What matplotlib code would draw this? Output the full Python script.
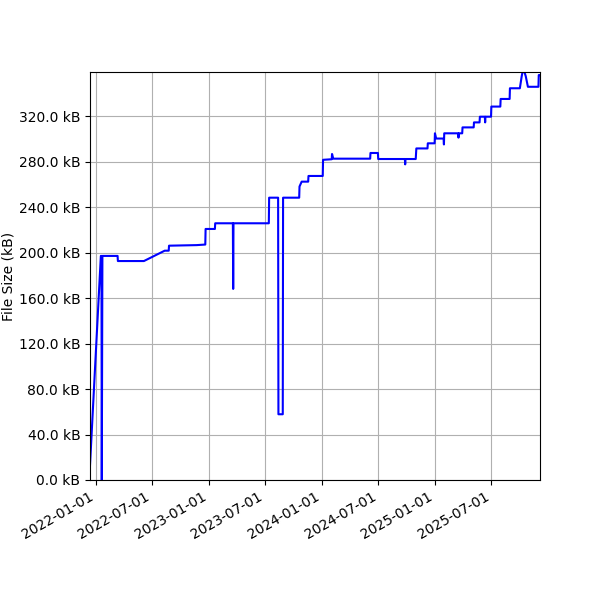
import pandas as pd
import matplotlib
matplotlib.use('Agg')
import matplotlib.pyplot as plt
import matplotlib.dates as mdates
import matplotlib.ticker as mticker

# file size history (kB)
dates = [
	'2021-12-14', '2022-01-18', '2022-01-20', '2022-01-21', '2022-01-23',
	'2022-03-13', '2022-03-14', '2022-06-06', '2022-08-12', '2022-08-25',
	'2022-08-26', '2022-11-23', '2022-12-21', '2022-12-22', '2023-01-21',
	'2023-01-22', '2023-03-20', '2023-03-21', '2023-03-22', '2023-07-14',
	'2023-07-15', '2023-08-13', '2023-08-14', '2023-08-28', '2023-08-29',
	'2023-10-20', '2023-10-21', '2023-10-28', '2023-11-18', '2023-11-19',
	'2024-01-04', '2024-01-05', '2024-02-02', '2024-02-03', '2024-02-07',
	'2024-06-05', '2024-06-06', '2024-06-30', '2024-07-01', '2024-09-25',
	'2024-09-26', '2024-09-27', '2024-10-30', '2024-11-01', '2024-12-07',
	'2024-12-08', '2024-12-30', '2024-12-31', '2025-01-04', '2025-01-28',
	'2025-01-29', '2025-01-30', '2025-03-16', '2025-03-17', '2025-03-18',
	'2025-03-29', '2025-03-30', '2025-05-05', '2025-05-06', '2025-05-24',
	'2025-05-25', '2025-06-10', '2025-06-11', '2025-06-12', '2025-06-30',
	'2025-07-01', '2025-07-30', '2025-07-31', '2025-08-29', '2025-08-30',
	'2025-10-01', '2025-10-07', '2025-10-12', '2025-10-20', '2025-10-27',
	'2025-11-30', '2025-12-01', '2025-12-05',
]
sizes_kb = [
	13, 197, 197, 0, 197,
	197, 192.5, 192.5, 201.6, 201.6,
	206, 206.5, 207, 220.7, 220.7,
	225.7, 225.7, 168, 225.7, 225.7,
	248.2, 248.2, 57.8, 57.8, 248.2,
	248.2, 258, 262.3, 262.3, 267.3,
	267.3, 281.5, 282, 286.6, 282.5,
	282.5, 287.5, 287.5, 282.2, 282.2,
	277.5, 282.2, 282.2, 291.5, 291.5,
	296, 296, 304.8, 300.2, 300.2,
	295, 304.8, 304.8, 301, 304.8,
	304.8, 310, 310, 314.4, 314.4,
	319.4, 319.4, 314.4, 319.4, 319.4,
	328.3, 328.3, 335, 335, 344.4,
	344.4, 355, 362, 355, 345.7,
	345.7, 356, 356,
]

df = pd.DataFrame({'size': sizes_kb}, index=pd.to_datetime(dates))

fig, ax = plt.subplots(figsize=(6, 6), dpi=100)
fig.subplots_adjust(left=0.15, right=0.9, top=0.88)
ax.plot(df.index.values, df['size'].values, color='blue', linewidth=1.5)

ax.xaxis.set_major_locator(mdates.MonthLocator(bymonth=[1, 7]))
ax.xaxis.set_major_formatter(mdates.DateFormatter('%Y-%m-%d'))
ax.yaxis.set_major_locator(mticker.MultipleLocator(40))
ax.yaxis.set_major_formatter(mticker.FuncFormatter(lambda v, p: '%.1f kB' % v))

ax.set_xlim(df.index[0], df.index[-1])
ax.set_ylim(0, 358.7)
ax.set_ylabel('File Size (kB)', labelpad=2)

ax.grid(True)
fig.autofmt_xdate()

fig.savefig('out.png', dpi=100)
